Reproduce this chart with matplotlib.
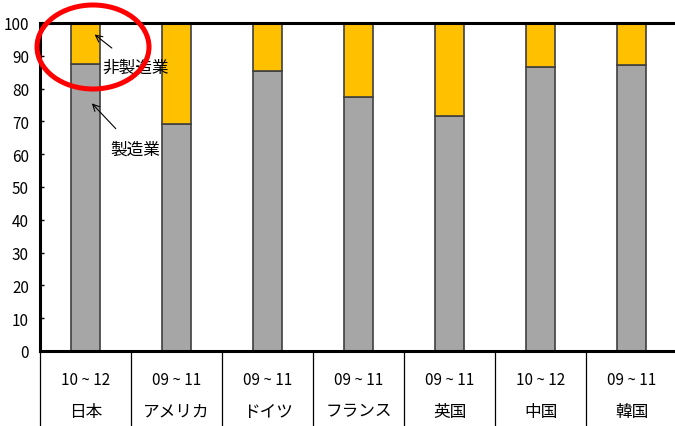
import matplotlib
matplotlib.use("Agg")
import matplotlib.pyplot as plt
from matplotlib.patches import Ellipse
import matplotlib.transforms as mtransforms

# data
periods = ["10～12", "09～11", "09～11", "09～11", "09～11", "10～12", "09～11"]
countries = ["日本", "アメリカ", "ドイツ", "フランス", "英国", "中国", "韓国"]
manufacturing = [87.5, 69.2, 85.4, 77.4, 71.6, 86.6, 87.2]
non_manufacturing = [100 - v for v in manufacturing]

plt.rcParams['font.family'] = ['Liberation Sans Narrow', 'Noto Sans CJK JP', 'DejaVu Sans']

fig = plt.figure(figsize=(6.75, 4.27), dpi=100)
ax = fig.add_axes([40 / 675, 75 / 427, 637 / 675, 328 / 427])

x = list(range(len(countries)))
ax.bar(x, manufacturing, width=0.31, color="#A6A6A6", edgecolor="#404040", linewidth=1.2, zorder=2)
ax.bar(x, non_manufacturing, bottom=manufacturing, width=0.31, color="#FFC000",
       edgecolor="#404040", linewidth=1.2, zorder=2)

ax.set_xlim(-0.5, 6.5)
ax.set_ylim(0, 100)
ax.set_yticks(range(0, 101, 10))
ax.tick_params(axis="y", direction="in", length=3, width=1, labelsize=11, pad=8)
ax.set_xticks([])
for s in ["left", "bottom", "top"]:
    ax.spines[s].set_linewidth(2.2)
    ax.spines[s].set_color("black")
ax.spines["right"].set_visible(False)

# category table under the axis
trans = mtransforms.blended_transform_factory(ax.transData, ax.transAxes)
for i in range(len(countries) + 1):
    ax.plot([i - 0.5, i - 0.5], [0, -0.235], transform=trans, color="black",
            linewidth=0.9, clip_on=False)
for i in x:
    ax.text(i, -0.088, periods[i].replace("～", " ~ "), transform=trans, ha="center", va="center", fontsize=11)
    ax.text(i, -0.183, countries[i], transform=trans, ha="center", va="center", fontsize=12)

# annotations
ax.annotate("非製造業", xy=(0.1, 96.5), xytext=(0.19, 85.2), fontsize=12,
            arrowprops=dict(arrowstyle="->", color="black", lw=0.8, shrinkA=9, shrinkB=0))
ax.annotate("製造業", xy=(0.07, 75.5), xytext=(0.27, 60.2), fontsize=12, ha="left",
            arrowprops=dict(arrowstyle="->", color="black", lw=0.8, shrinkA=9, shrinkB=0))

# red circle highlight
circ = Ellipse((93 / 675, 1 - 48 / 427), 112 / 675, 84 / 427, transform=fig.transFigure,
               fill=False, edgecolor="#FF0000", linewidth=3.6, zorder=5)
fig.patches.append(circ)

fig.savefig("out.png", dpi=100)
